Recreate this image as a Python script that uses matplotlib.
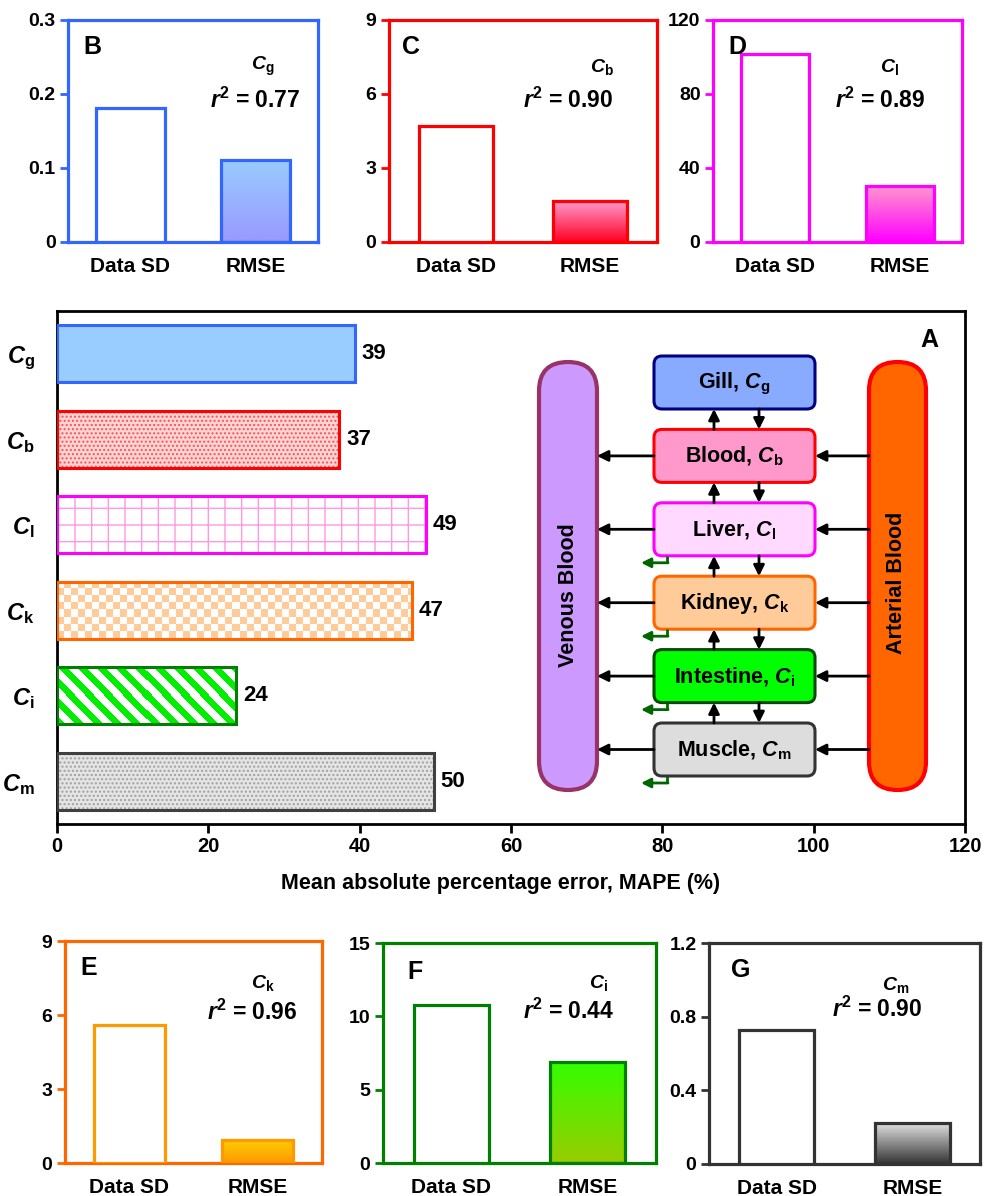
import numpy as np
import matplotlib
matplotlib.use('Agg')
import matplotlib.pyplot as plt
from matplotlib.colors import LinearSegmentedColormap, ListedColormap
from matplotlib.patches import FancyBboxPatch

plt.rcParams.update({
    'font.family': 'Liberation Sans',
    'font.weight': 'bold',
    'mathtext.fontset': 'custom',
    'mathtext.rm': 'Liberation Sans',
    'mathtext.it': 'Liberation Sans:italic',
    'mathtext.bf': 'Liberation Sans:bold',
    'mathtext.bfit': 'Liberation Sans:italic:bold',
    'hatch.linewidth': 1.0,
})

# ---- panel A: MAPE per compartment ----
subs = ['g', 'b', 'l', 'k', 'i', 'm']
mape = [39.4, 37.3, 48.8, 46.9, 23.7, 49.8]

# ---- panels B-G: Data SD vs RMSE ----
letters = ['B', 'C', 'D', 'E', 'F', 'G']
data_sd = [0.181, 4.71, 101.6, 5.6, 10.77, 0.727]
rmse = [0.111, 1.66, 30.4, 0.93, 6.9, 0.22]
r2 = [0.77, 0.90, 0.89, 0.96, 0.44, 0.90]
ymax = [0.3, 9, 120, 9, 15, 1.2]
yticks = [[0, 0.1, 0.2, 0.3], [0, 3, 6, 9], [0, 40, 80, 120],
          [0, 3, 6, 9], [0, 5, 10, 15], [0, 0.4, 0.8, 1.2]]
ytick_labels = [['0', '0.1', '0.2', '0.3'], ['0', '3', '6', '9'], ['0', '40', '80', '120'],
                ['0', '3', '6', '9'], ['0', '5', '10', '15'], ['0', '0.4', '0.8', '1.2']]
bar_labels = ['Data SD', 'RMSE']

# ---- schematic ----
organs = ['Gill', 'Blood', 'Liver', 'Kidney', 'Intestine', 'Muscle']

W, H = 984, 1196
fig = plt.figure(figsize=(W / 100, H / 100), dpi=100)


def px_axes(l, t, r, b, **kw):
    return fig.add_axes([l / W, 1 - b / H, (r - l) / W, (b - t) / H], **kw)


def csub(s):
    return r'$\mathbfit{C}_{\mathrm{%s}}$' % s


# small panel styling
frame_col = ['#3366ff', '#ff0000', '#ff00ff', '#ff6600', '#008000', '#333333']
bar_edge = ['#3366ff', '#ff0000', '#ff00ff', '#ff9900', '#008000', '#333333']
grad_top = ['#99ccff', '#ff99cc', '#ff99cc', '#ffcc00', '#33ff00', '#e0e0e0']
grad_bot = ['#9999ff', '#ff0022', '#ff00ff', '#ff9900', '#99cc00', '#333333']
boxes = [(68, 20, 318, 242), (389, 20, 657, 242), (713, 20, 962, 242),
         (65, 941, 322, 1163), (383, 943, 656, 1163), (709, 943, 980, 1164)]
letter_pos = [(0.06, 0.88), (0.05, 0.88), (0.06, 0.88), (0.06, 0.88), (0.09, 0.87), (0.08, 0.88)]
sub_pos = [(0.78, 0.79), (0.795, 0.79), (0.71, 0.79), (0.77, 0.81), (0.79, 0.82), (0.69, 0.81)]
r2_pos = [(0.75, 0.64), (0.67, 0.64), (0.67, 0.64), (0.73, 0.68), (0.68, 0.69), (0.62, 0.70)]

for k in range(6):
    ax = px_axes(*boxes[k])
    c = frame_col[k]
    bars = ax.bar([0, 1], [data_sd[k], rmse[k]], width=0.55, color=['white', 'none'],
                  edgecolor=bar_edge[k], linewidth=2.3, zorder=3)
    p = bars[1]
    cmap = LinearSegmentedColormap.from_list('g%d' % k, [grad_bot[k], grad_top[k]])
    grad = np.linspace(0, 1, 256).reshape(-1, 1)
    im = ax.imshow(grad, cmap=cmap, origin='lower', aspect='auto', zorder=2,
                   extent=(p.get_x(), p.get_x() + p.get_width(), 0, p.get_height()))
    im.set_clip_path(p)
    ax.set_xlim(-0.5, 1.5)
    ax.set_ylim(0, ymax[k])
    ax.set_yticks(yticks[k])
    ax.set_yticklabels(ytick_labels[k])
    ax.set_xticks([0, 1])
    ax.set_xticklabels(bar_labels, fontsize=15)
    ax.tick_params(axis='x', length=0, pad=11)
    ax.tick_params(axis='y', length=6, width=2, color=c, labelsize=14, pad=3)
    for s in ax.spines.values():
        s.set_color(c)
        s.set_linewidth(2.3)
    ax.text(*letter_pos[k], letters[k], transform=ax.transAxes, fontsize=18,
            ha='left', va='center')
    ax.text(*sub_pos[k], csub(subs[k]), transform=ax.transAxes, fontsize=14,
            ha='center', va='center')
    ax.text(*r2_pos[k], r'$\mathbfit{r}^{\mathbf{2}}$' + ' = %.2f' % r2[k],
            transform=ax.transAxes, fontsize=16.5, ha='center', va='center')

# ---- panel A ----
A_box = (57, 311, 965, 824)
axA = px_axes(*A_box)
bh = 0.67
ypos = np.arange(len(subs))
fills = ['#99ccff', '#ffd6d6', 'white', 'white', 'white', '#e4e4e4']
edges = ['#3366ff', '#ff0000', '#ff00ff', '#ff6600', '#008000', '#404040']
hatches = [None, '....', '+', None, None, '....']
hatch_cols = ['#99ccff', '#ff5050', '#ff99dd', '#ffcc99', '#00ee00', '#a0a0a0']

fill_bars = axA.barh(ypos, mape, height=bh, color=fills, linewidth=0, zorder=2)
for b, h, hc in zip(fill_bars, hatches, hatch_cols):
    if h:
        b.set_hatch(h)
        b.set_edgecolor(hc)
axA.barh(ypos, mape, height=bh, color='none', edgecolor=edges, linewidth=2.2, zorder=4)

pxx = (A_box[2] - A_box[0]) / 120.0
pxy = (A_box[3] - A_box[1]) / 6.0


def texture(patch, arr, c0, c1):
    x0, y0 = patch.get_x(), patch.get_y()
    w, h = patch.get_width(), patch.get_height()
    im = axA.imshow(arr, cmap=ListedColormap([c0, c1]), origin='upper', aspect='auto',
                    interpolation='nearest', zorder=3, vmin=0, vmax=1,
                    extent=(x0, x0 + w, y0 + h, y0))
    im.set_clip_path(patch)


# checkerboard for kidney
pk = fill_bars[3]
nx, ny = int(pk.get_width() * pxx), int(pk.get_height() * pxy)
yy, xx = np.indices((ny, nx))
texture(pk, ((xx // 7 + yy // 7) % 2).astype(float), 'white', '#ffcc99')
# diagonal stripes for intestine
pi = fill_bars[4]
nx, ny = int(pi.get_width() * pxx), int(pi.get_height() * pxy)
yy, xx = np.indices((ny, nx))
texture(pi, (((xx - yy) % 19) < 9).astype(float), 'white', '#00ee00')

for y, v in zip(ypos, mape):
    axA.text(v + 0.9, y, '%d' % round(v), fontsize=16, va='center', ha='left')

axA.set_xlim(0, 120)
axA.set_ylim(5.5, -0.5)
axA.set_xticks(range(0, 121, 20))
axA.tick_params(axis='x', length=6.5, width=2, labelsize=14.5, pad=3)
axA.set_yticks(ypos)
axA.set_yticklabels([csub(s) for s in subs], fontsize=17)
axA.tick_params(axis='y', length=0, pad=16)
for s in axA.spines.values():
    s.set_linewidth(2)
fig.text(501 / W, 1 - 884 / H, 'Mean absolute percentage error, MAPE (%)',
         fontsize=15.5, ha='center', va='center')

# ---- schematic overlay ----
ov = fig.add_axes([0, 0, 1, 1], zorder=10)
ov.set_xlim(0, W)
ov.set_ylim(H, 0)
ov.axis('off')

organ_fill = ['#88aaff', '#ff99cc', '#ffd9ff', '#ffcc99', '#00ff00', '#dddddd']
organ_edge = ['#000080', '#ff0000', '#ff00ff', '#ff6600', '#004d00', '#333333']

# blood pools
ov.add_patch(FancyBboxPatch((539, 362), 58, 428, boxstyle='round,pad=0,rounding_size=29',
                            fc='#cc99ff', ec='#993366', lw=3))
ov.add_patch(FancyBboxPatch((869, 362), 57, 428, boxstyle='round,pad=0,rounding_size=28.5',
                            fc='#ff6600', ec='#ff0000', lw=3))
ov.text(568, 595, 'Venous Blood', rotation=90, fontsize=15.5, ha='center', va='center')
ov.text(897, 583, 'Arterial Blood', rotation=90, fontsize=15.5, ha='center', va='center')
ov.text(929, 340, 'A', fontsize=18, ha='center', va='center')

bx0, bx1, top0, step, bht = 654, 815, 356, 73.4, 53
arr_k = dict(arrowstyle='-|>', color='black', lw=2, mutation_scale=16, shrinkA=0, shrinkB=0)
arr_g = dict(arrowstyle='-|>', color='#006600', lw=2, mutation_scale=14, shrinkA=0, shrinkB=0)
for k, name in enumerate(organs):
    top = top0 + k * step
    ov.add_patch(FancyBboxPatch((bx0, top), bx1 - bx0, bht, boxstyle='round,pad=0,rounding_size=8',
                                fc=organ_fill[k], ec=organ_edge[k], lw=2.2))
    ov.text((bx0 + bx1) / 2, top + bht / 2 + 1, name + ', ' + csub(subs[k]),
            fontsize=15.5, ha='center', va='center')
    if k < len(organs) - 1:
        nxt = top + step
        ov.annotate('', xy=(714, top + bht), xytext=(714, nxt), arrowprops=arr_k)
        ov.annotate('', xy=(759, nxt), xytext=(759, top + bht), arrowprops=arr_k)
    if k >= 1:
        yc = top + bht / 2
        ov.annotate('', xy=(597, yc), xytext=(bx0, yc), arrowprops=arr_k)
        ov.annotate('', xy=(bx1, yc), xytext=(869, yc), arrowprops=arr_k)
    if k >= 2:
        yb = top + bht
        ov.plot([667, 667], [yb, yb + 7], color='#006600', lw=2, solid_capstyle='butt')
        ov.annotate('', xy=(641, yb + 7), xytext=(668, yb + 7), arrowprops=arr_g)

fig.savefig('out.png', dpi=100)
